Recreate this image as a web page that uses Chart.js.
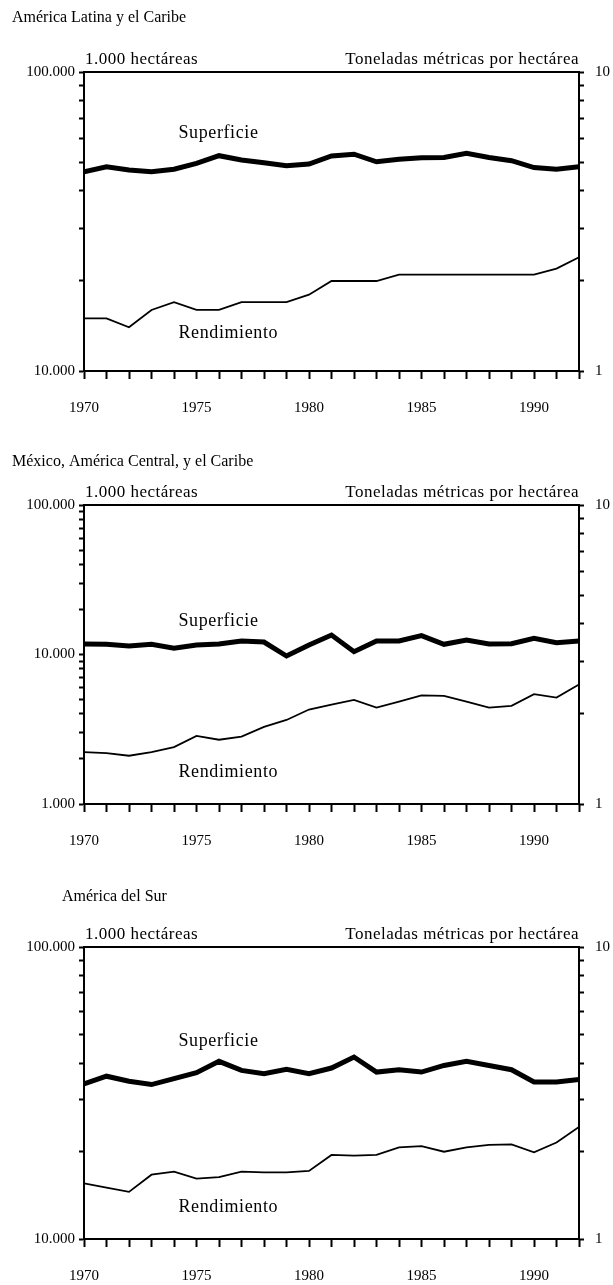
<!DOCTYPE html>
<html>
<head>
<meta charset="utf-8">
<script src="https://cdn.jsdelivr.net/npm/chart.js@4/dist/chart.umd.min.js"></script>
<style>
  html, body { margin: 0; padding: 0; background: #fff; }
  body { width: 613px; height: 1285px; position: relative; overflow: hidden; }
  .panel { position: absolute; left: 0; width: 613px; }
</style>
</head>
<body>
<div class="panel" style="top:0;height:430px"><canvas id="chart-latam"></canvas></div>
<div class="panel" style="top:430px;height:432px"><canvas id="chart-mex"></canvas></div>
<div class="panel" style="top:862px;height:423px"><canvas id="chart-south"></canvas></div>
<script>
  // Years on the x axis, labelled every 5 years
  const years = [1970, 1971, 1972, 1973, 1974, 1975, 1976, 1977, 1978, 1979, 1980,
    1981, 1982, 1983, 1984, 1985, 1986, 1987, 1988, 1989, 1990, 1991, 1992];
  const yearLabels = [1970, 1975, 1980, 1985, 1990];

  // Tick values (log scales)
  const areaTicksOneDecade = [10000, 20000, 30000, 40000, 50000, 60000, 70000, 80000, 90000, 100000];
  const areaTicksTwoDecades = [1000, 2000, 3000, 4000, 5000, 6000, 7000, 8000, 9000,
    10000, 20000, 30000, 40000, 50000, 60000, 70000, 80000, 90000, 100000];
  const yieldTicks = [1, 2, 3, 4, 5, 6, 7, 8, 9, 10];

  // América Latina y el Caribe
  const latamArea = [46400, 48200, 47000, 46400, 47300, 49500, 52500, 50800, 49700, 48600, 49200,
    52400, 53100, 50100, 51100, 51700, 51800, 53500, 51800, 50500, 47900, 47300, 48200];
  const latamYield = [1.5, 1.5, 1.4, 1.6, 1.7, 1.6, 1.6, 1.7, 1.7, 1.7, 1.8,
    2.0, 2.0, 2.0, 2.1, 2.1, 2.1, 2.1, 2.1, 2.1, 2.1, 2.2, 2.4];

  // México, América Central, y el Caribe
  const mexArea = [11750, 11700, 11400, 11700, 11000, 11570, 11750, 12310, 12120, 9770, 11570,
    13500, 10440, 12310, 12310, 13360, 11700, 12500, 11750, 11810, 12830, 11990, 12310];
  const mexYield = [1.49, 1.48, 1.45, 1.49, 1.55, 1.69, 1.64, 1.68, 1.81, 1.91, 2.07,
    2.15, 2.23, 2.10, 2.20, 2.31, 2.30, 2.20, 2.10, 2.13, 2.33, 2.27, 2.51];

  // América del Sur
  const southArea = [34000, 36100, 34700, 33800, 35400, 37100, 40600, 37800, 36800, 38100, 36800,
    38500, 42000, 37300, 38000, 37300, 39300, 40600, 39300, 38000, 34500, 34500, 35200];
  const southYield = [1.55, 1.50, 1.45, 1.66, 1.70, 1.61, 1.63, 1.70, 1.69, 1.69, 1.71,
    1.94, 1.93, 1.94, 2.06, 2.08, 1.99, 2.06, 2.10, 2.11, 1.98, 2.14, 2.42];

  const FONT_FAMILY = '"Liberation Serif", "Times New Roman", serif';

  function fmtThousands(v) {
    return String(v).replace(/\B(?=(\d{3})+(?!\d))/g, '.');
  }

  // titles, unit captions, top border and series names
  const framePlugin = {
    id: 'frame',
    afterDraw(chart, args, opts) {
      const { ctx, chartArea: a, scales } = chart;
      ctx.save();
      ctx.fillStyle = '#000';
      ctx.strokeStyle = '#000';
      ctx.textBaseline = 'middle';

      ctx.font = '16px ' + FONT_FAMILY;
      ctx.textAlign = 'left';
      ctx.fillText(opts.title, opts.titleX, opts.titleY);

      ctx.font = '17px ' + FONT_FAMILY;
      ctx.letterSpacing = '0.5px';
      ctx.fillText('1.000 hectáreas', a.left + 1, a.top - 12);
      ctx.textAlign = 'right';
      ctx.fillText('Toneladas métricas por hectárea', a.right, a.top - 12);

      ctx.lineWidth = 2;
      ctx.beginPath();
      ctx.moveTo(a.left - 1, a.top);
      ctx.lineTo(a.right + 1, a.top);
      ctx.stroke();

      ctx.font = '18px ' + FONT_FAMILY;
      ctx.letterSpacing = '0.6px';
      ctx.textAlign = 'left';
      opts.notes.forEach((n) => {
        ctx.fillText(n.text, scales.x.getPixelForValue(n.x), scales.y2.getPixelForValue(n.y));
      });
      ctx.restore();
    },
  };

  function makeChart(canvasId, cfg) {
    const font = { family: FONT_FAMILY, size: 15 };
    const grid = { drawOnChartArea: false, color: '#000', tickColor: '#000', tickWidth: 2 };
    const border = { display: true, color: '#000', width: 2 };

    return new Chart(document.getElementById(canvasId), {
      type: 'line',
      data: {
        datasets: [
          {
            label: 'Superficie',
            data: years.map((x, i) => ({ x, y: cfg.area[i] })),
            yAxisID: 'y',
            borderColor: '#000',
            borderWidth: 5,
            pointRadius: 0,
            tension: 0,
            fill: false,
          },
          {
            label: 'Rendimiento',
            data: years.map((x, i) => ({ x, y: cfg.yield[i] })),
            yAxisID: 'y2',
            borderColor: '#000',
            borderWidth: 1.8,
            pointRadius: 0,
            tension: 0,
            fill: false,
          },
        ],
      },
      options: {
        responsive: true,
        maintainAspectRatio: false,
        animation: false,
        events: [],
        layout: { padding: { top: cfg.padTop, left: 0, right: 0, bottom: 0 } },
        plugins: {
          legend: { display: false },
          tooltip: { enabled: false },
          frame: { title: cfg.title, titleX: cfg.titleX, titleY: cfg.titleY, notes: cfg.notes },
        },
        scales: {
          x: {
            type: 'linear',
            min: years[0],
            max: years[years.length - 1],
            afterBuildTicks: (s) => { s.ticks = years.map((v) => ({ value: v })); },
            afterFit: (s) => { s.height = cfg.xHeight; },
            ticks: {
              autoSkip: false,
              maxRotation: 0,
              color: '#000',
              font,
              padding: 20,
              callback: (v) => (yearLabels.includes(v) ? String(v) : ''),
            },
            grid: Object.assign({ tickLength: 8 }, grid),
            border,
          },
          y: {
            type: 'logarithmic',
            position: 'left',
            min: cfg.areaTicks[0],
            max: cfg.areaTicks[cfg.areaTicks.length - 1],
            afterBuildTicks: (s) => { s.ticks = cfg.areaTicks.map((v) => ({ value: v })); },
            afterFit: (s) => { s.width = 84; },
            ticks: {
              autoSkip: false,
              color: '#000',
              font,
              padding: 4,
              callback: (v) => (cfg.areaLabels.includes(v) ? fmtThousands(v) : ''),
            },
            grid: Object.assign({ tickLength: 5 }, grid),
            border,
          },
          y2: {
            type: 'logarithmic',
            position: 'right',
            min: 1,
            max: 10,
            afterBuildTicks: (s) => { s.ticks = yieldTicks.map((v) => ({ value: v })); },
            afterFit: (s) => { s.width = 34; },
            ticks: {
              autoSkip: false,
              color: '#000',
              font,
              padding: 11,
              callback: (v) => (v === 1 || v === 10 ? String(v) : ''),
            },
            grid: Object.assign({ tickLength: 5 }, grid),
            border,
          },
        },
      },
      plugins: [framePlugin],
    });
  }

  makeChart('chart-latam', {
    title: 'América Latina y el Caribe', titleX: 12, titleY: 18,
    padTop: 72, xHeight: 59,
    area: latamArea, yield: latamYield,
    areaTicks: areaTicksOneDecade, areaLabels: [10000, 100000],
    notes: [{ text: 'Superficie', x: 1974.2, y: 6.25 }, { text: 'Rendimiento', x: 1974.2, y: 1.34 }],
  });

  makeChart('chart-mex', {
    title: 'México, América Central, y el Caribe', titleX: 12, titleY: 32,
    padTop: 75, xHeight: 58,
    area: mexArea, yield: mexYield,
    areaTicks: areaTicksTwoDecades, areaLabels: [1000, 10000, 100000],
    notes: [{ text: 'Superficie', x: 1974.2, y: 4.07 }, { text: 'Rendimiento', x: 1974.2, y: 1.28 }],
  });

  makeChart('chart-south', {
    title: 'América del Sur', titleX: 62, titleY: 35,
    padTop: 85, xHeight: 46,
    area: southArea, yield: southYield,
    areaTicks: areaTicksOneDecade, areaLabels: [10000, 100000],
    notes: [{ text: 'Superficie', x: 1974.2, y: 4.74 }, { text: 'Rendimiento', x: 1974.2, y: 1.28 }],
  });
</script>
</body>
</html>
